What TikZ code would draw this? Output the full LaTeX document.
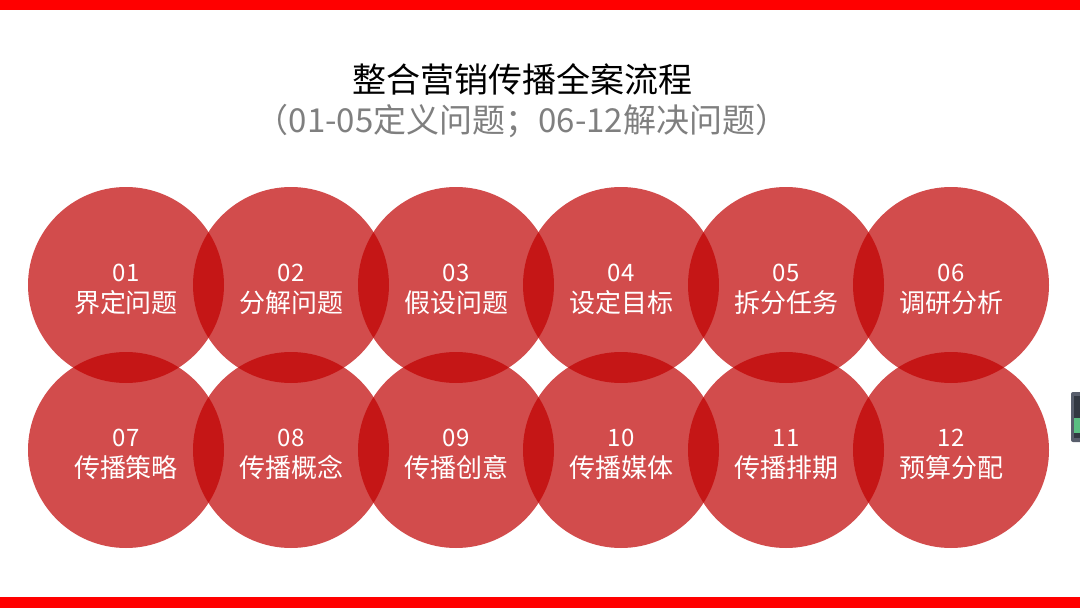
\documentclass[tikz,border=0pt]{standalone}
\usepackage{fontspec}
\setmainfont{Noto Sans CJK SC}
\definecolor{barred}{RGB}{255,0,0}
\definecolor{circred}{RGB}{192,0,0}
\definecolor{subgray}{RGB}{127,127,127}
\definecolor{widgetgray}{RGB}{88,94,108}
\definecolor{widgetdark}{RGB}{50,56,66}
\definecolor{widgetgreen}{RGB}{90,190,130}
\tikzset{
  stepcircle/.style={circle, fill=circred, fill opacity=0.7, minimum size=196pt, inner sep=0pt},
  numtext/.style={anchor=base, inner sep=0pt, text=white, font=\fontsize{24pt}{26pt}\selectfont},
  labeltext/.style={anchor=base, inner sep=0pt, text=white, font=\fontsize{26pt}{28pt}\selectfont},
}
\begin{document}
\begin{tikzpicture}[x=1pt,y=-1pt]
\useasboundingbox (0,0) rectangle (1080,608);
\fill[white] (0,0) rectangle (1080,608);
\fill[barred] (0,0) rectangle (1080,10);
\fill[barred] (0,597) rectangle (1080,608);
\node[font=\fontsize{34pt}{36pt}\selectfont, text=black] (title) at (522,79) {整合营销传播全案流程};
\node[font=\fontsize{33pt}{35pt}\selectfont, text=subgray] (subtitle) at (522,121) {（01-05定义问题；06-12解决问题）};
\foreach \n/\t [count=\k from 0] in {01/界定问题,02/分解问题,03/假设问题,04/设定目标,05/拆分任务,06/调研分析}{
  \node[stepcircle] (c\n) at (126+165*\k,285) {};
  \node[numtext] (n\n) at (126+165*\k,281) {\n};
  \node[labeltext] (l\n) at (126+165*\k,312) {\t};
}
\foreach \n/\t [count=\k from 0] in {07/传播策略,08/传播概念,09/传播创意,10/传播媒体,11/传播排期,12/预算分配}{
  \node[stepcircle] (c\n) at (126+165*\k,450) {};
  \node[numtext] (n\n) at (126+165*\k,446) {\n};
  \node[labeltext] (l\n) at (126+165*\k,477) {\t};
}
\fill[widgetgray, rounded corners=2pt] (1071,392) rectangle (1084,442);
\fill[widgetdark] (1074,396) rectangle (1080,438);
\fill[widgetgreen] (1074,418) rectangle (1080,433);
\end{tikzpicture}
\end{document}
